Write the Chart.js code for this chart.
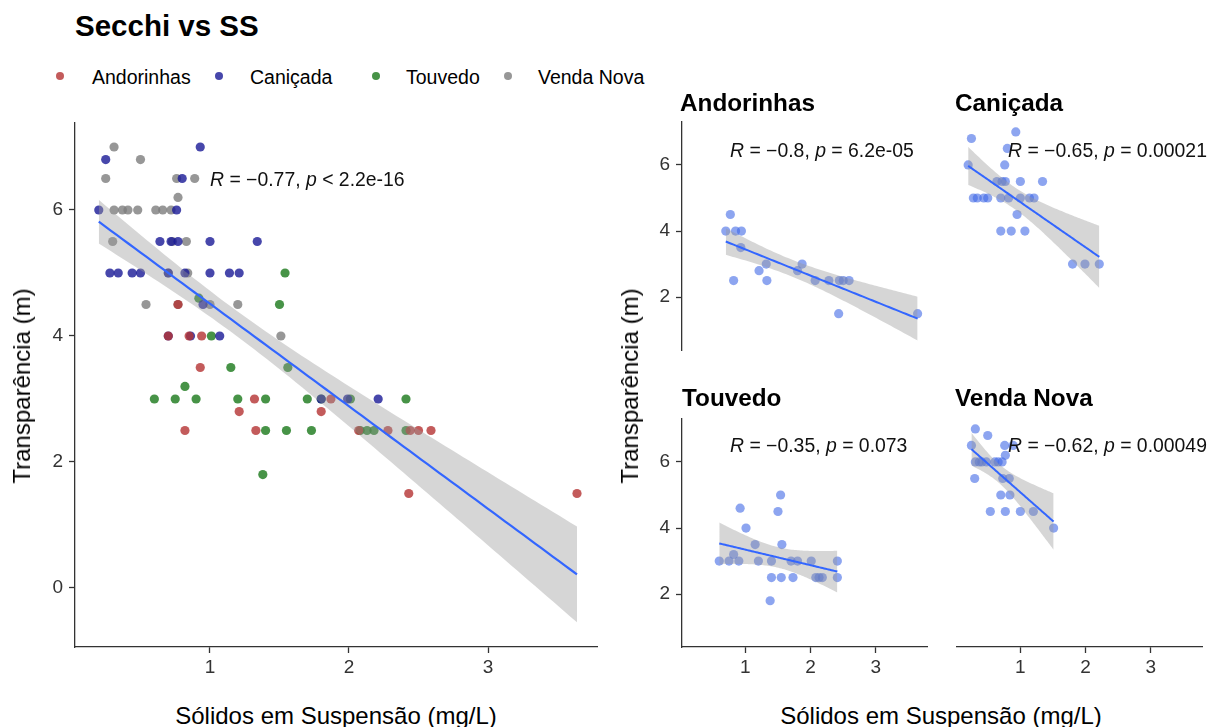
<!DOCTYPE html>
<html>
<head>
<meta charset="utf-8">
<title>Secchi vs SS</title>
<script src="https://cdn.jsdelivr.net/npm/chart.js@4.4.1/dist/chart.umd.min.js"></script>
<style>
  body { margin: 0; width: 1217px; height: 727px; background: #fff; position: relative; overflow: hidden;
         font-family: 'Liberation Sans', Arial, sans-serif; color: #000; }
  .abs { position: absolute; white-space: nowrap; }
  .title { left: 75px; top: 9px; font-size: 29.5px; font-weight: bold; }
  .leg { top: 66px; font-size: 19.5px; line-height: 22px; }
  .dot { position: absolute; width: 8px; height: 8px; border-radius: 50%; top: 72px; }
  .axt { font-size: 24px; transform: translate(-50%, -50%); }
  .axt.rot { transform: translate(-50%, -50%) rotate(-90deg); }
  .strip { font-size: 24.3px; font-weight: bold; transform: translateY(-50%); }
  .cor { font-size: 19.4px; transform: translateY(-50%); color: #111; }
  canvas { position: absolute; }
</style>
</head>
<body>

<div class="abs title">Secchi vs SS</div>
<div id="legend"></div>

<canvas id="cMain" width="600" height="600" style="left:0;top:100px"></canvas>
<canvas id="cAnd" width="330" height="280" style="left:600px;top:100px"></canvas>
<canvas id="cCan" width="280" height="280" style="left:930px;top:100px"></canvas>
<canvas id="cTou" width="330" height="303" style="left:600px;top:397px"></canvas>
<canvas id="cVen" width="280" height="303" style="left:930px;top:397px"></canvas>

<div class="abs axt" style="left:336px;top:716px">Sólidos em Suspensão (mg/L)</div>
<div class="abs axt rot" style="left:22px;top:386px">Transparência (m)</div>
<div class="abs axt" style="left:941px;top:716px">Sólidos em Suspensão (mg/L)</div>
<div class="abs axt rot" style="left:630px;top:386px">Transparência (m)</div>

<div id="notes"></div>

<script>
const FONT = "'Liberation Sans', Arial, sans-serif";

const sites = ['Andorinhas', 'Caniçada', 'Touvedo', 'Venda Nova'];

// sólidos em suspensão (mg/L) e disco de Secchi (m)
const andorinhasSS     = [0.77, 0.70, 0.85, 0.94, 0.93, 1.32, 1.21, 0.82, 1.33, 1.87, 1.80, 2.07, 2.28, 2.44, 2.50, 2.59, 2.43, 3.64];
const andorinhasSecchi = [4.5, 4.0, 4.0, 4.0, 3.5, 3.0, 2.8, 2.5, 2.5, 3.0, 2.8, 2.5, 2.5, 2.5, 2.5, 2.5, 1.5, 1.5];

const canicadaSS     = [0.25, 0.93, 0.80, 0.20, 0.76, 0.64, 0.72, 0.77, 1.00, 1.34, 0.28, 0.34, 0.44, 0.50, 0.70, 0.82, 1.00, 1.14, 1.21, 0.95, 0.70, 0.86, 1.07, 1.80, 1.99, 2.21];
const canicadaSecchi = [6.8, 7.0, 6.5, 6.0, 6.0, 5.5, 5.5, 5.5, 5.5, 5.5, 5.0, 5.0, 5.0, 5.0, 5.0, 5.0, 5.0, 5.0, 5.0, 4.5, 4.0, 4.0, 4.0, 3.0, 3.0, 3.0];

const touvedoSS     = [1.54, 0.92, 1.50, 1.01, 1.56, 1.15, 0.82, 0.60, 0.75, 0.90, 1.20, 1.40, 1.70, 1.80, 2.01, 2.41, 1.40, 1.55, 1.73, 2.08, 2.13, 2.18, 2.41, 1.38];
const touvedoSecchi = [5.0, 4.6, 4.5, 4.0, 3.5, 3.5, 3.2, 3.0, 3.0, 3.0, 3.0, 3.0, 3.0, 3.0, 3.0, 3.0, 2.5, 2.5, 2.5, 2.5, 2.5, 2.5, 2.5, 1.8];

const vendaNovaSS     = [0.31, 0.50, 0.25, 0.76, 0.89, 0.77, 0.31, 0.37, 0.41, 0.48, 0.61, 0.66, 0.72, 0.30, 0.73, 0.83, 0.70, 0.84, 0.54, 0.77, 1.00, 1.20, 1.51];
const vendaNovaSecchi = [7.0, 6.8, 6.5, 6.5, 6.5, 6.2, 6.0, 6.0, 6.0, 6.0, 6.0, 6.0, 6.0, 5.5, 5.5, 5.5, 5.0, 5.0, 4.5, 4.5, 4.5, 4.5, 4.0];

// correlação de Pearson (geral e por albufeira)
const corAll = ['\u22120.77', '< 2.2e-16'];
const corR = ['\u22120.8', '\u22120.65', '\u22120.35', '\u22120.62'];
const corP = ['= 6.2e-05', '= 0.00021', '= 0.073', '= 0.00049'];

const xTicks = [1, 2, 3];
const mainYTicks = [0, 2, 4, 6];
const panelYTicks = [2, 4, 6];

const ssBySite = [andorinhasSS, canicadaSS, touvedoSS, vendaNovaSS];
const secchiBySite = [andorinhasSecchi, canicadaSecchi, touvedoSecchi, vendaNovaSecchi];

const siteColors = ['rgba(180,50,50,0.8)', 'rgba(25,25,150,0.8)', 'rgba(25,120,25,0.8)', 'rgba(125,125,125,0.8)'];
const panelPoint = 'rgba(65,105,230,0.6)';
const fitBlue = '#3366FF';

// legend
const legPos = [[60, 92], [219, 250], [376, 406], [508, 538]];
let legHtml = '';
sites.forEach((s, i) => {
  legHtml += '<span class="dot" style="left:' + (legPos[i][0] - 4) + 'px;background:' + siteColors[i] + '"></span>';
  legHtml += '<span class="abs leg" style="left:' + legPos[i][1] + 'px">' + s + '</span>';
});
document.getElementById('legend').innerHTML = legHtml;

// t quantile (97.5%), Cornish-Fisher
function tQuant(df) {
  const z = 1.959964;
  const g1 = (z ** 3 + z) / 4;
  const g2 = (5 * z ** 5 + 16 * z ** 3 + 3 * z) / 96;
  const g3 = (3 * z ** 7 + 19 * z ** 5 + 17 * z ** 3 - 15 * z) / 384;
  return z + g1 / df + g2 / df ** 2 + g3 / df ** 3;
}

// linear model + 95% confidence band, like geom_smooth(method = "lm")
function lmFit(xs, ys) {
  const n = xs.length;
  const mx = xs.reduce((a, b) => a + b, 0) / n;
  const my = ys.reduce((a, b) => a + b, 0) / n;
  let sxx = 0, sxy = 0;
  for (let i = 0; i < n; i++) {
    sxx += (xs[i] - mx) ** 2;
    sxy += (xs[i] - mx) * (ys[i] - my);
  }
  const b = sxy / sxx;
  const a = my - b * mx;
  let sse = 0;
  for (let i = 0; i < n; i++) sse += (ys[i] - a - b * xs[i]) ** 2;
  const s = Math.sqrt(sse / (n - 2));
  const t = tQuant(n - 2);
  const lo = Math.min(...xs), hi = Math.max(...xs);
  const fit = [], upper = [], lower = [];
  for (let k = 0; k <= 80; k++) {
    const x = lo + (hi - lo) * k / 80;
    const yh = a + b * x;
    const se = s * Math.sqrt(1 / n + (x - mx) ** 2 / sxx);
    fit.push({ x: x, y: yh });
    upper.push({ x: x, y: yh + t * se });
    lower.push({ x: x, y: yh - t * se });
  }
  return { fit, upper, lower };
}

function toPoints(xs, ys) {
  return xs.map((x, i) => ({ x: x, y: ys[i] }));
}

function smoothSets(xs, ys, lw) {
  const m = lmFit(xs, ys);
  return [
    { type: 'line', data: m.lower, pointRadius: 0, borderWidth: 0, fill: false, order: 1 },
    { type: 'line', data: m.upper, pointRadius: 0, borderWidth: 0, fill: '-1',
      backgroundColor: 'rgba(153,153,153,0.4)', order: 1 },
    { type: 'line', data: m.fit, pointRadius: 0, borderWidth: lw, borderColor: fitBlue, fill: false, order: 0 }
  ];
}

// hidden axes keep their (blank) room so every plot area has a fixed size
function scaleCfg(axis, show, min, max, tickVals, size) {
  return {
    type: 'linear',
    position: axis === 'x' ? 'bottom' : 'left',
    display: true,
    min: min,
    max: max,
    afterBuildTicks: s => { s.ticks = tickVals.map(v => ({ value: v })); },
    afterFit: s => { if (axis === 'x') s.height = size; else s.width = size; },
    grid: { display: show, drawOnChartArea: false, drawTicks: true, tickLength: 6, tickWidth: 1.3, tickColor: '#333' },
    border: { display: show, color: '#333', width: 1.3 },
    ticks: { display: show, color: '#333', font: { family: FONT, size: 19 }, padding: axis === 'x' ? 3 : 6,
             maxRotation: 0, autoSkip: false }
  };
}

function makeChart(id, datasets, x, y, padding) {
  return new Chart(document.getElementById(id), {
    type: 'scatter',
    data: { datasets: datasets },
    options: {
      responsive: false,
      animation: false,
      events: [],
      layout: { padding: padding, autoPadding: false },
      plugins: { legend: { display: false }, tooltip: { enabled: false } },
      scales: { x: x, y: y }
    }
  });
}

// painel geral, cores por albufeira
const allSS = [].concat(...ssBySite);
const allSecchi = [].concat(...secchiBySite);
const mainSets = sites.map((s, i) => ({
  label: s,
  data: toPoints(ssBySite[i], secchiBySite[i]),
  pointRadius: 4.6,
  pointBorderWidth: 0,
  pointBackgroundColor: siteColors[i],
  order: 2
})).concat(smoothSets(allSS, allSecchi, 2.2));

makeChart('cMain', mainSets,
  scaleCfg('x', true, 0.029, 3.784, xTicks, 53),
  scaleCfg('y', true, -0.937, 7.381, mainYTicks, 75),
  { top: 23, right: 3, left: 0, bottom: 0 });

// facetas
const X_MIN = 0.029, X_MAX = 3.784, Y_MIN = 0.40, Y_MAX = 7.30;
const panels = [
  { id: 'cAnd', showX: false, showY: true,  xRoom: 30, yRoom: 82, pad: { top: 22, right: 3, left: 0, bottom: 0 } },
  { id: 'cCan', showX: false, showY: false, xRoom: 30, yRoom: 0,  pad: { top: 22, right: 8, left: 27, bottom: 0 } },
  { id: 'cTou', showX: true,  showY: true,  xRoom: 53, yRoom: 82, pad: { top: 22, right: 3, left: 0, bottom: 0 } },
  { id: 'cVen', showX: true,  showY: false, xRoom: 53, yRoom: 0,  pad: { top: 22, right: 8, left: 27, bottom: 0 } }
];

panels.forEach((p, i) => {
  const sets = [{
    label: sites[i],
    data: toPoints(ssBySite[i], secchiBySite[i]),
    pointRadius: 4.6,
    pointBorderWidth: 0,
    pointBackgroundColor: panelPoint,
    order: 2
  }].concat(smoothSets(ssBySite[i], secchiBySite[i], 2));
  makeChart(p.id, sets,
    scaleCfg('x', p.showX, X_MIN, X_MAX, xTicks, p.xRoom),
    scaleCfg('y', p.showY, Y_MIN, Y_MAX, panelYTicks, p.yRoom),
    p.pad);
});

// títulos das facetas e rótulos de correlação
const stripPos = [[680, 103], [955, 103], [682, 398], [955, 398]];
const corPos = [[730, 150], [1008, 150], [730, 445], [1008, 445]];
let notes = '<div class="abs cor" style="left:210px;top:179px"><i>R</i> = ' + corAll[0] + ', <i>p</i> ' + corAll[1] + '</div>';
sites.forEach((s, i) => {
  notes += '<div class="abs strip" style="left:' + stripPos[i][0] + 'px;top:' + stripPos[i][1] + 'px">' + s + '</div>';
  notes += '<div class="abs cor" style="left:' + corPos[i][0] + 'px;top:' + corPos[i][1] + 'px"><i>R</i> = ' +
           corR[i] + ', <i>p</i> ' + corP[i] + '</div>';
});
document.getElementById('notes').innerHTML = notes;
</script>
</body>
</html>
